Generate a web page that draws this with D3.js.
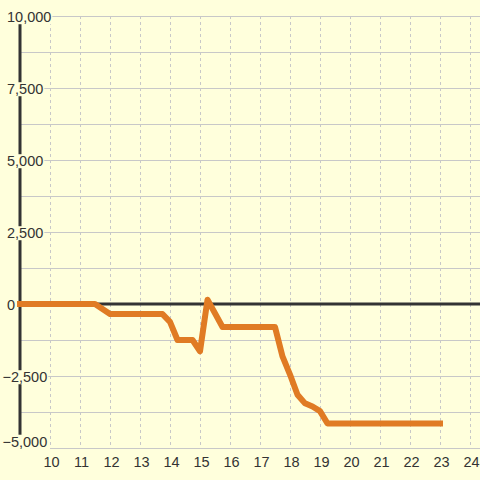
<!DOCTYPE html>
<html>
<head>
<meta charset="utf-8">
<script src="https://cdn.jsdelivr.net/npm/d3@7"></script>
<style>
  html, body { margin: 0; padding: 0; background: #ffffdc; }
  text { font-family: "Liberation Sans", Arial, sans-serif; fill: #333; }
</style>
</head>
<body>
<svg id="chart" width="480" height="480"></svg>
<script>
// hour of day vs value
const hours = [9, 11.5, 12, 13.75, 14, 14.25, 14.75, 15, 15.25, 15.75, 17.5, 17.75, 18, 18.25, 18.5, 18.75, 19, 19.25, 23];
const values = [0, 0, -350, -350, -620, -1250, -1250, -1640, 150, -800, -800, -1820, -2450, -3150, -3450, -3560, -3720, -4150, -4150];

const xTicks = [10, 11, 12, 13, 14, 15, 16, 17, 18, 19, 20, 21, 22, 23, 24];
const yTicks = [-5000, -2500, 0, 2500, 5000, 7500, 10000];
const yGrid = [-5000, -3750, -2500, -1250, 1250, 2500, 3750, 5000, 6250, 7500, 8750, 10000];

const W = 480, H = 480;
const svg = d3.select("#chart");

svg.append("rect").attr("width", W).attr("height", H).attr("fill", "#ffffdc");

const x = d3.scaleLinear().domain([9, 24]).range([20, 470]);
const y = d3.scaleLinear().domain([-5000, 10000]).range([448, 16]);

// vertical dotted grid
svg.append("g")
  .selectAll("line")
  .data(xTicks)
  .enter()
  .append("line")
  .attr("x1", (d) => x(d) + 0.5)
  .attr("x2", (d) => x(d) + 0.5)
  .attr("y1", y(10000))
  .attr("y2", y(-5000))
  .attr("stroke", "#c8c8c8")
  .attr("stroke-width", 1)
  .attr("stroke-dasharray", "3,3");

// horizontal grid
svg.append("g")
  .selectAll("line")
  .data(yGrid)
  .enter()
  .append("line")
  .attr("x1", (d) => (d === -5000 ? x(10) : x(9)))
  .attr("x2", W)
  .attr("y1", (d) => Math.round(y(d)) + 0.5)
  .attr("y2", (d) => Math.round(y(d)) + 0.5)
  .attr("stroke", "#c8c8c8")
  .attr("stroke-width", 1);

// y axis line
svg.append("line")
  .attr("x1", x(9)).attr("x2", x(9))
  .attr("y1", y(10000)).attr("y2", y(-5000))
  .attr("stroke", "#333")
  .attr("stroke-width", 3);

// zero line
svg.append("line")
  .attr("x1", x(9)).attr("x2", W)
  .attr("y1", y(0)).attr("y2", y(0))
  .attr("stroke", "#333")
  .attr("stroke-width", 3);

// y labels with background
const fmt = d3.format(",");
const yl = svg.append("g").selectAll("g").data(yTicks).enter().append("g");
yl.each(function (d) {
  const g = d3.select(this);
  let cy = y(d) + 1;
  if (cy > 441.5) cy = 441.5;
  const t = g.append("text")
    .attr("x", d < 0 ? 2.5 : 7)
    .attr("y", cy)
    .attr("dy", "0.36em")
    .attr("font-size", "14.5px")
    .text(fmt(d));
  const bb = t.node().getBBox();
  g.insert("rect", "text")
    .attr("x", bb.x - 1)
    .attr("y", bb.y + 1)
    .attr("width", bb.width + 2)
    .attr("height", bb.height - 2)
    .attr("fill", "#ffffdc");
});

// x labels
const xAxis = d3.axisBottom(x).tickValues(xTicks).tickSize(0).tickPadding(0).tickFormat(d3.format("d"));
const xg = svg.append("g")
  .attr("transform", `translate(1,${y(-5000) + 5})`)
  .call(xAxis);
xg.select(".domain").remove();
xg.selectAll("text")
  .attr("font-size", "14.5px")
  .attr("font-family", "Liberation Sans, Arial, sans-serif")
  .attr("fill", "#333")
  .attr("dy", "0.95em");

// series
const line = d3.line()
  .x((d, i) => x(hours[i]))
  .y((d) => y(d));

svg.append("path")
  .datum(values)
  .attr("d", line)
  .attr("fill", "none")
  .attr("stroke", "#e07b24")
  .attr("stroke-width", 6)
  .attr("stroke-linejoin", "round")
  .attr("stroke-linecap", "square");
</script>
</body>
</html>
